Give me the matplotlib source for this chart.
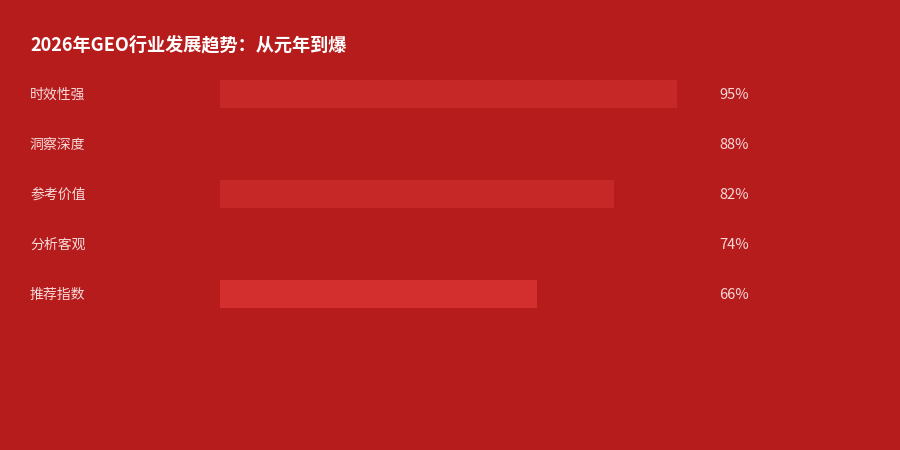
import matplotlib.pyplot as plt
import matplotlib.transforms as mtransforms

plt.rcParams['font.family'] = ['Noto Sans CJK SC', 'DejaVu Sans']

title = "2026年GEO行业发展趋势：从元年到爆"
categories = ["时效性强", "洞察深度", "参考价值", "分析客观", "推荐指数"]
values = [95, 88, 82, 74, 66]
bar_colors = ["#C62828", "#B71C1C", "#C62828", "#B71C1C", "#D32F2F"]

bg = "#B71C1C"
text_color = "#F7DADA"

W, H = 900, 450
fig = plt.figure(figsize=(9, 4.5), dpi=100, facecolor=bg)

# bar area: x 220..701 px for 0..100, rows 50 px apart starting at y=69
ax = fig.add_axes([220 / W, 1 - 319 / H, 481 / W, 250 / H])
ax.set_facecolor(bg)
ax.set_xlim(0, 100)
ax.set_ylim(len(categories) - 0.5, -0.5)
ax.axis("off")

ypos = list(range(len(categories)))
ax.barh(ypos, values, height=0.56, color=bar_colors, linewidth=0)

label_tf = mtransforms.blended_transform_factory(fig.transFigure, ax.transData)
for y, cat, v in zip(ypos, categories, values):
    ax.text(30 / W, y + 0.02, cat, transform=label_tf, ha="left", va="center",
            fontsize=10, color=text_color)
    ax.text(719.5 / W, y + 0.02, f"{v}%", transform=label_tf, ha="left",
            va="center", fontsize=10.5, color=text_color)

fig.text(30 / W, 1 - 44.5 / H, title, ha="left", va="center",
         fontsize=13.1, fontweight="bold", color="white")

fig.savefig("out.png", dpi=100, facecolor=bg)
